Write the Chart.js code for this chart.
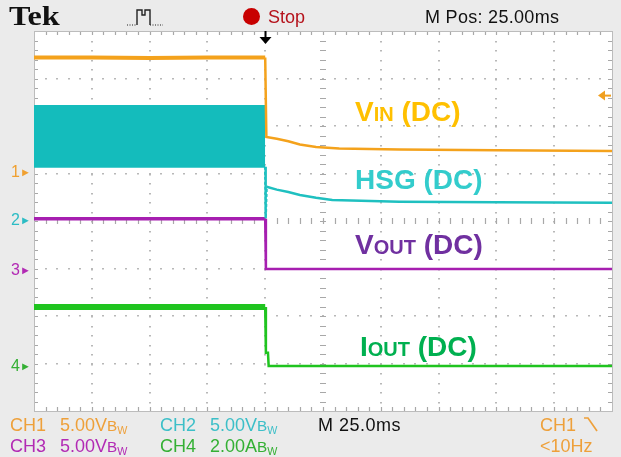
<!DOCTYPE html>
<html>
<head>
<meta charset="utf-8">
<title>Tek scope capture</title>
<script src="https://cdn.jsdelivr.net/npm/chart.js@4.4.1/dist/chart.umd.min.js"></script>
<style>
  html, body { margin: 0; padding: 0; }
  body { width: 621px; height: 457px; position: relative; overflow: hidden; background: #ebebeb; font-family: "Liberation Sans", Arial, sans-serif; }
  #scope { position: absolute; left: 0; top: 0; }
  .t { position: absolute; white-space: nowrap; line-height: 1; }
  .tek { font-family: "Liberation Serif", serif; font-weight: bold; font-size: 28px; left: 9px; top: 2px; color: #111; transform: scaleX(1.15); transform-origin: 0 0; }
  .sc { font-size: 18px; }
  .bw { font-size: 0.85em; }
  .bw span { font-size: 0.7em; position: relative; top: 0.25em; }
  .lbl { font-weight: bold; font-size: 28px; }
  .lbl small { font-size: 20px; }
  .mk { font-size: 16px; left: 11px; }
  .mk span { font-size: 11px; position: relative; top: -1px; }
  .dot { position: absolute; left: 243px; top: 8px; width: 17px; height: 17px; border-radius: 50%; background: #c80000; }
</style>
</head>
<body>
<canvas id="scope" width="621" height="457"></canvas>

<div class="t tek">Tek</div>
<svg style="position:absolute; left:126px; top:6px" width="42" height="22">
  <path d="M1 19 H11" stroke="#222" stroke-width="1.2" stroke-dasharray="1 1.5" fill="none"/>
  <path d="M11 19 V4 H16 V9 H19 V4 H24 V19" stroke="#222" stroke-width="1.4" fill="none"/>
  <path d="M24 19 H37" stroke="#222" stroke-width="1.2" stroke-dasharray="1 1.5" fill="none"/>
</svg>
<div class="dot"></div>
<div class="t sc" style="left:268px; top:8px; color:#b5121b">Stop</div>
<div class="t sc" style="left:425px; top:8px; color:#111; letter-spacing:0.3px">M Pos: 25.00ms</div>

<div class="t lbl" style="left:355px; top:98px; color:#ffc000">V<small>IN</small> (DC)</div>
<div class="t lbl" style="left:355px; top:166px; color:#33cccc">HSG (DC)</div>
<div class="t lbl" style="left:355px; top:231px; color:#7030a0">V<small>OUT</small> (DC)</div>
<div class="t lbl" style="left:360px; top:333px; color:#00b050">I<small>OUT</small> (DC)</div>

<div class="t mk" id="mk0" style="color:#f0a030">1<span>&#9658;</span></div>
<div class="t mk" id="mk1" style="color:#2cbcc4">2<span>&#9658;</span></div>
<div class="t mk" id="mk2" style="color:#b22ab4">3<span>&#9658;</span></div>
<div class="t mk" id="mk3" style="color:#34b034">4<span>&#9658;</span></div>

<div class="t sc" style="left:10px; top:416px; color:#eea03a">CH1</div>
<div class="t sc" style="left:60px; top:416px; color:#eea03a">5.00V<span class="bw">B<span>W</span></span></div>
<div class="t sc" style="left:160px; top:416px; color:#3cbfc8">CH2</div>
<div class="t sc" style="left:210px; top:416px; color:#3cbfc8">5.00V<span class="bw">B<span>W</span></span></div>
<div class="t sc" style="left:318px; top:416px; color:#111; letter-spacing:0.5px">M 25.0ms</div>
<div class="t sc" style="left:540px; top:416px; color:#eea03a">CH1</div>
<svg style="position:absolute; left:583px; top:416px" width="22" height="17">
  <path d="M1 2 H5 L14 15" stroke="#eea03a" stroke-width="1.7" fill="none"/>
</svg>
<div class="t sc" style="left:10px; top:437px; color:#b22ab4">CH3</div>
<div class="t sc" style="left:60px; top:437px; color:#b22ab4">5.00V<span class="bw">B<span>W</span></span></div>
<div class="t sc" style="left:160px; top:437px; color:#34b034">CH4</div>
<div class="t sc" style="left:210px; top:437px; color:#34b034">2.00A<span class="bw">B<span>W</span></span></div>
<div class="t sc" style="left:540px; top:437px; color:#eea03a">&lt;10Hz</div>

<script>
// scope settings
const timePerDiv = 25;        // ms/div
const horizPos = 25;          // M Pos (ms at screen centre)
const voltsPerDiv = [5, 5, 5, 2];           // CH1..CH3 V/div, CH4 A/div
const groundDiv = [1.04, 0.02, -1.03, -3.05];
const ch1TrigLevel = 8;       // V

// CH1 - VIN
const vinTime = [-100, -75, -50, -25, 0, 0.5, 5, 10, 15, 22, 32, 58, 100, 150];
const vinVolts = [12.0, 12.0, 11.95, 12.0, 12.0, 3.65, 3.45, 3.2, 2.85, 2.6, 2.43, 2.33, 2.25, 2.17];

// CH2 - HSG (switching band before trigger, then decay)
const hsgBandTime = [-100, 0];
const hsgBandHigh = [12.0, 12.0];
const hsgBandLow = [5.6, 5.6];
const hsgTime = [0, 0.2, 0.6, 5, 10, 15, 22, 29, 58, 100, 150];
const hsgVolts = [5.6, 0.2, 3.5, 3.2, 2.95, 2.64, 2.35, 2.11, 1.93, 1.88, 1.83];

// CH3 - VOUT
const voutTime = [-100, 0, 0.3, 150];
const voutVolts = [5.4, 5.4, 0.1, 0.1];

// CH4 - IOUT
const ioutTime = [-100, 0, 0.3, 1.2, 1.5, 150];
const ioutAmps = [2.48, 2.48, 0.55, 0.55, 0.0, 0.0];

const xMin = horizPos - 5 * timePerDiv;
const xMax = horizPos + 5 * timePerDiv;

function trace(ch, times, vals) {
    return times.map((t, i) => ({ x: t, y: groundDiv[ch] + vals[i] / voltsPerDiv[ch] }));
}

function widthPrePost(pre, post) {
    return c => (c.p1.parsed.x <= 0 ? pre : post);
}

const graticule = {
    id: 'graticule',
    beforeDatasetsDraw(chart) {
        const { ctx, chartArea: a, scales: { x, y } } = chart;
        ctx.save();
        ctx.fillStyle = '#ffffff';
        ctx.fillRect(a.left, a.top, a.right - a.left, a.bottom - a.top);

        const dx = (x.getPixelForValue(xMin + timePerDiv) - x.getPixelForValue(xMin)) / 5;
        const dy = (y.getPixelForValue(-4) - y.getPixelForValue(-3)) / 5;
        const cx = x.getPixelForValue(horizPos);
        const cy = y.getPixelForValue(0);

        // dotted division lines
        ctx.fillStyle = '#b8b8b8';
        for (let i = 1; i < 10; i++) {
            if (i === 5) continue;
            const px = Math.round(x.getPixelForValue(xMin + i * timePerDiv));
            for (let j = 1; j < 40; j++) ctx.fillRect(px - 1, Math.round(a.top + j * dy), 2, 1.5);
        }
        for (let i = -3; i <= 3; i++) {
            if (i === 0) continue;
            const py = Math.round(y.getPixelForValue(i));
            for (let j = 1; j < 50; j++) ctx.fillRect(Math.round(a.left + j * dx) - 1, py - 1, 2, 1.5);
        }

        // centre cross ticks
        ctx.strokeStyle = '#a8a8a8';
        ctx.lineWidth = 1.2;
        ctx.beginPath();
        for (let j = 1; j < 40; j++) {
            const py = Math.round(a.top + j * dy) + 0.5;
            ctx.moveTo(cx - 3, py); ctx.lineTo(cx + 3, py);
        }
        for (let j = 1; j < 50; j++) {
            const px = Math.round(a.left + j * dx) + 0.5;
            ctx.moveTo(px, cy - 3); ctx.lineTo(px, cy + 3);
        }
        // border ticks
        for (let j = 1; j < 40; j++) {
            const py = Math.round(a.top + j * dy) + 0.5;
            ctx.moveTo(a.left, py); ctx.lineTo(a.left + 4, py);
            ctx.moveTo(a.right, py); ctx.lineTo(a.right - 4, py);
        }
        for (let j = 1; j < 50; j++) {
            const px = Math.round(a.left + j * dx) + 0.5;
            ctx.moveTo(px, a.top); ctx.lineTo(px, a.top + 4);
            ctx.moveTo(px, a.bottom); ctx.lineTo(px, a.bottom - 4);
        }
        ctx.stroke();

        ctx.strokeStyle = '#bcbcbc';
        ctx.lineWidth = 1;
        ctx.strokeRect(Math.round(a.left) + 0.5, Math.round(a.top) + 0.5,
            Math.round(a.right - a.left), Math.round(a.bottom - a.top));
        ctx.restore();
    },
    afterDatasetsDraw(chart) {
        const { ctx, chartArea: a, scales: { x, y } } = chart;
        ctx.save();
        // trigger position arrow
        const tx = Math.round(x.getPixelForValue(0)) + 0.5;
        ctx.fillStyle = '#000';
        ctx.fillRect(tx - 1, a.top, 2, 7);
        ctx.beginPath();
        ctx.moveTo(tx - 6, a.top + 6); ctx.lineTo(tx + 6, a.top + 6); ctx.lineTo(tx, a.top + 13);
        ctx.closePath(); ctx.fill();
        // CH1 trigger level arrow
        const ty = y.getPixelForValue(groundDiv[0] + ch1TrigLevel / voltsPerDiv[0]);
        ctx.fillStyle = '#f0a020';
        ctx.beginPath();
        ctx.moveTo(a.right - 14, ty); ctx.lineTo(a.right - 7, ty - 5); ctx.lineTo(a.right - 7, ty + 5);
        ctx.closePath(); ctx.fill();
        ctx.fillRect(a.right - 8, ty - 1, 7, 2);
        ctx.restore();
    }
};

const chart = new Chart(document.getElementById('scope'), {
    type: 'line',
    data: {
        datasets: [
            {
                label: 'VIN', data: trace(0, vinTime, vinVolts),
                borderColor: '#f4a21c', segment: { borderWidth: widthPrePost(4, 2.5) }
            },
            {
                label: 'HSG band high', data: trace(1, hsgBandTime, hsgBandHigh),
                borderColor: '#14bcbc', backgroundColor: '#14bcbc', borderWidth: 2, fill: '+1'
            },
            {
                label: 'HSG band low', data: trace(1, hsgBandTime, hsgBandLow),
                borderColor: '#14bcbc', borderWidth: 2
            },
            {
                label: 'HSG', data: trace(1, hsgTime, hsgVolts),
                borderColor: '#1fc0c0', borderWidth: 2.5,
                segment: { borderDash: c => (c.p0DataIndex < 2 ? [3, 2] : undefined) }
            },
            {
                label: 'VOUT', data: trace(2, voutTime, voutVolts),
                borderColor: '#a61fb0', segment: { borderWidth: widthPrePost(3.5, 2.5) }
            },
            {
                label: 'IOUT', data: trace(3, ioutTime, ioutAmps),
                borderColor: '#1fc41f', segment: { borderWidth: widthPrePost(6, 2.5) }
            }
        ]
    },
    options: {
        responsive: false,
        animation: false,
        devicePixelRatio: 1,
        layout: { padding: { left: 34, top: 31, right: 9, bottom: 46 } },
        elements: {
            point: { radius: 0 },
            line: { tension: 0, borderCapStyle: 'butt', fill: false }
        },
        scales: {
            x: { type: 'linear', min: xMin, max: xMax, display: false },
            y: { min: -4, max: 4, display: false }
        },
        plugins: { legend: { display: false }, tooltip: { enabled: false } }
    },
    plugins: [graticule]
});

// channel ground markers on the left edge
groundDiv.forEach((g, i) => {
    const el = document.getElementById('mk' + i);
    el.style.top = (chart.scales.y.getPixelForValue(g) - 8) + 'px';
});
</script>
</body>
</html>
